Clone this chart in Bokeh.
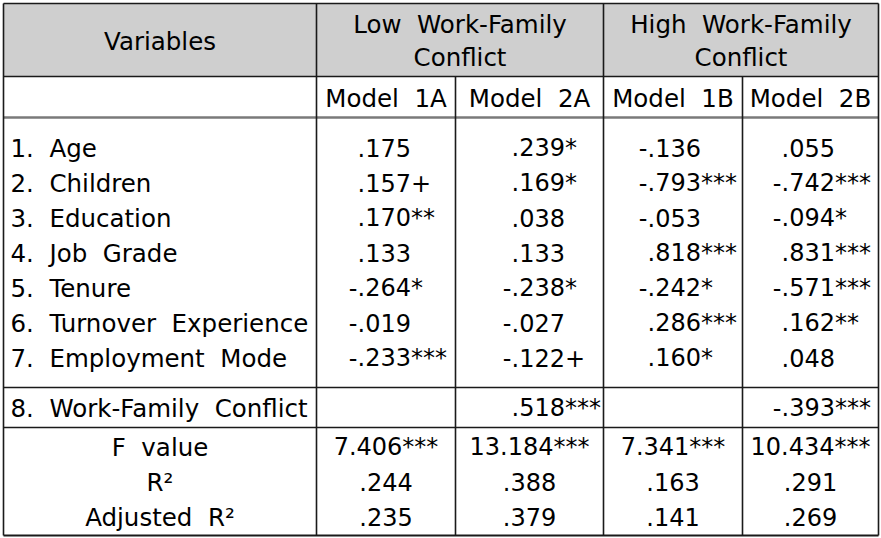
from bokeh.plotting import figure
from bokeh.models import Range1d, ColumnDataSource
from bokeh.core.properties import value
from bokeh.embed import file_html
from bokeh.resources import INLINE

S = "\u00a0 "  # wide word gap (non-collapsing)

# ---------------- data ----------------
group_labels = ["Low" + S + "Work-Family", "High" + S + "Work-Family"]
group_labels_2 = ["Conflict", "Conflict"]
model_labels = ["Model" + S + "1A", "Model" + S + "2A", "Model" + S + "1B", "Model" + S + "2B"]
variables = [
    "1." + S + "Age",
    "2." + S + "Children",
    "3." + S + "Education",
    "4." + S + "Job" + S + "Grade",
    "5." + S + "Tenure",
    "6." + S + "Turnover" + S + "Experience",
    "7." + S + "Employment" + S + "Mode",
    "8." + S + "Work-Family" + S + "Conflict",
]
model_1a = [".175", ".157+", ".170**", ".133", "-.264*", "-.019", "-.233***", ""]
model_2a = [".239*", ".169*", ".038", ".133", "-.238*", "-.027", "-.122+", ".518***"]
model_1b = ["-.136", "-.793***", "-.053", ".818***", "-.242*", ".286***", ".160*", ""]
model_2b = [".055", "-.742***", "-.094*", ".831***", "-.571***", ".162**", ".048", "-.393***"]
stat_labels = ["F" + S + "value", "R\u00b2", "Adjusted" + S + "R\u00b2"]
f_value = ["7.406***", "13.184***", "7.341***", "10.434***"]
r2 = [".244", ".388", ".163", ".291"]
adj_r2 = [".235", ".379", ".141", ".269"]

# ---------------- layout (pixel space) ----------------
W, H = 881, 538
col_edges = [3, 316, 455, 603, 742, 878]
col_centers = [(col_edges[i] + col_edges[i + 1]) / 2 for i in range(5)]
dec_anchor = [357, 511, 647, 781]
top, head_bot, model_bot, data_bot, row8_bot, bottom = 3, 76, 117, 387, 427, 535
FONT = value("DejaVu Sans")
FS = "24px"
HFS = "24.5px"
OFF = -9.5  # baseline correction

p = figure(width=W, height=H, x_range=Range1d(0, W), y_range=Range1d(H, 0),
           output_backend="svg", toolbar_location=None, min_border=0,
           outline_line_color=None, background_fill_color="white",
           border_fill_color="white")
p.axis.visible = False
p.xgrid.visible = False
p.ygrid.visible = False

# header fill
p.quad(left=[col_edges[0]], right=[col_edges[-1]], top=[top], bottom=[head_bot],
       fill_color="#cfcfcf", line_color=None)

# horizontal rules
dark = "#1a1a1a"
p.segment(x0=[col_edges[0]] * 4, x1=[col_edges[-1]] * 4,
          y0=[top, head_bot, data_bot, row8_bot], y1=[top, head_bot, data_bot, row8_bot],
          line_color=dark, line_width=1.6)
p.segment(x0=[col_edges[0]], x1=[col_edges[-1]], y0=[model_bot], y1=[model_bot],
          line_color="#7a7a7a", line_width=2.6)
p.segment(x0=[col_edges[0]], x1=[col_edges[-1]], y0=[bottom], y1=[bottom],
          line_color=dark, line_width=2)
# vertical rules
p.segment(x0=[col_edges[0], col_edges[1], col_edges[3], col_edges[5]],
          x1=[col_edges[0], col_edges[1], col_edges[3], col_edges[5]],
          y0=[top] * 4, y1=[bottom] * 4, line_color=dark, line_width=1.6)
p.segment(x0=[col_edges[2], col_edges[4]], x1=[col_edges[2], col_edges[4]],
          y0=[head_bot] * 2, y1=[bottom] * 2, line_color=dark, line_width=1.6)


def txt(xs, ys, texts, align, size=FS):
    src = ColumnDataSource(dict(x=xs, y=[y + OFF for y in ys], t=texts))
    p.text(x="x", y="y", text="t", source=src, text_font=FONT, text_font_size=size,
           text_color="black", text_align=align, text_baseline="alphabetic")


# header texts
txt([col_centers[0]], [50], ["Variables"], "center", HFS)
gx = [(col_edges[1] + col_edges[3]) / 2, (col_edges[3] + col_edges[5]) / 2]
txt(gx, [33, 33], group_labels, "center", HFS)
txt(gx, [66, 66], group_labels_2, "center", HFS)
txt(col_centers[1:], [107] * 4, model_labels, "center", HFS)

# variable rows
row_base = [157 + 35 * i for i in range(7)] + [417]
txt([10] * len(variables), row_base, variables, "left", HFS)

for ci, col in enumerate([model_1a, model_2a, model_1b, model_2b]):
    lx, ly, lt, rx, ry, rt = [], [], [], [], [], []
    for ri, s in enumerate(col):
        if not s:
            continue
        k = s.index(".")
        if k > 0:
            lx.append(dec_anchor[ci]); ly.append(row_base[ri]); lt.append(s[:k])
        rx.append(dec_anchor[ci]); ry.append(row_base[ri]); rt.append(s[k:])
    if lt:
        txt(lx, ly, lt, "right")
    txt(rx, ry, rt, "left")

# statistics rows
stat_base = [456, 491, 526]
txt([col_centers[0]] * 3, stat_base, stat_labels, "center", HFS)
for vals, yb in zip([f_value, r2, adj_r2], stat_base):
    txt(col_centers[1:], [yb] * 4, vals, "center")

open("out.html", "w").write(file_html(p, INLINE))
